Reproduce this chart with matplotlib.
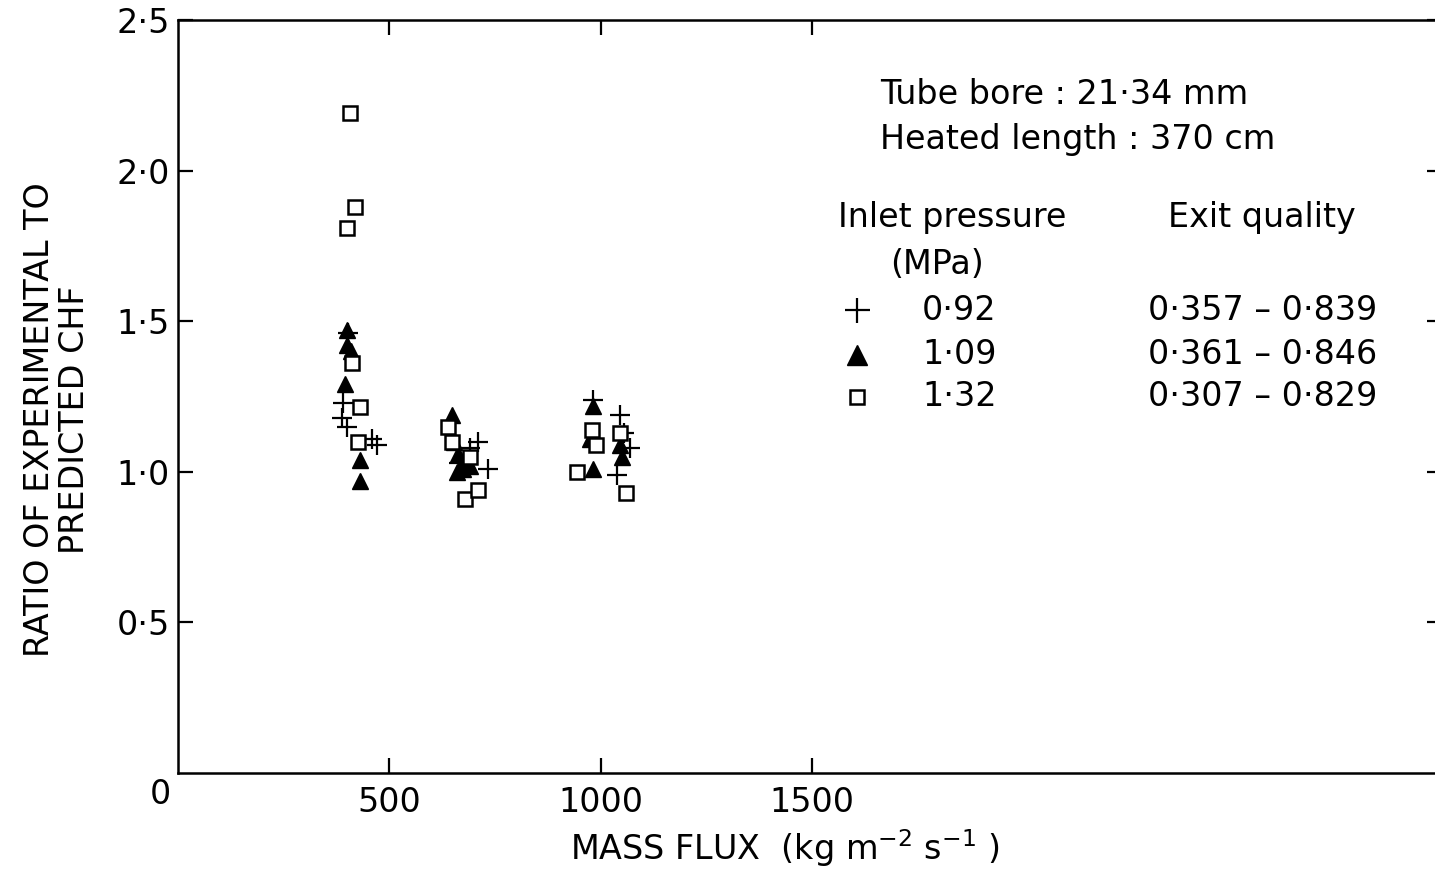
import matplotlib
matplotlib.use("Agg")
import matplotlib.pyplot as plt

# Data: mass flux (kg m-2 s-1) vs ratio exp/predicted CHF
g_092 = [402, 390, 388, 400, 459, 470, 710, 690, 733, 665, 982, 1046, 1069, 1038, 1055]
r_092 = [1.46, 1.23, 1.18, 1.15, 1.11, 1.09, 1.10, 1.08, 1.01, 1.03, 1.24, 1.19, 1.08, 0.99, 1.13]

g_109 = [400, 400, 410, 395, 430, 430, 648, 653, 663, 677, 675, 690, 660,
         982, 975, 982, 1046, 1050]
r_109 = [1.47, 1.42, 1.40, 1.29, 1.04, 0.97, 1.19, 1.10, 1.06, 1.04, 1.01, 1.02, 1.00,
         1.22, 1.11, 1.01, 1.09, 1.05]

g_132 = [407, 419, 400, 412, 430, 426, 639, 648, 690, 679, 710,
         944, 979, 989, 1046, 1060]
r_132 = [2.19, 1.88, 1.81, 1.36, 1.215, 1.10, 1.15, 1.10, 1.05, 0.91, 0.94,
         1.00, 1.14, 1.09, 1.13, 0.93]

legend_pressure = ["0·92", "1·09", "1·32"]
legend_quality = ["0·357 – 0·839", "0·361 – 0·846", "0·307 – 0·829"]

W, H = 1435, 869
FS = 24
plt.rcParams['font.family'] = ['DejaVu Sans']

fig = plt.figure(figsize=(W / 100, H / 100), dpi=100)
ax = fig.add_axes([178 / W, 1 - 773 / H, (1442 - 178) / W, (773 - 20) / H])

ax.plot(g_092, r_092, '+', color='k', ms=15, mew=1.6, ls='none')
ax.plot(g_109, r_109, '^', color='k', ms=11, ls='none')
ax.plot(g_132, r_132, 's', mfc='white', mec='k', ms=10, mew=1.8, ls='none')

ax.set_xlim(0, (1442 - 178) / 0.4227)
ax.set_ylim(0, 2.5)

ax.set_xticks([500, 1000, 1500])
ax.set_xticklabels(["500", "1000", "1500"])
ax.set_yticks([0.5, 1.0, 1.5, 2.0, 2.5])
ax.set_yticklabels(["0·5", "1·0", "1·5", "2·0", "2·5"])
ax.tick_params(direction='in', length=11, width=1.6, labelsize=FS, top=True, right=True)
ax.tick_params(axis='x', pad=9)
ax.tick_params(axis='y', pad=6)
for s in ax.spines.values():
    s.set_linewidth(1.8)

# shared origin label
fig.text(160 / W, 1 - 795 / H, "0", fontsize=FS, ha='center', va='center')

fig.text(57 / W, 1 - 420 / H, "RATIO OF EXPERIMENTAL TO\nPREDICTED CHF", fontsize=FS,
         rotation=90, ha='center', va='center', multialignment='center', linespacing=1.1)
fig.text(785 / W, 1 - 848 / H, "MASS FLUX  (kg m$^{-2}$ s$^{-1}$ )", fontsize=FS,
         ha='center', va='center')

# annotation block
fig.text(880 / W, 1 - 95 / H, "Tube bore : 21·34 mm", fontsize=FS, va='center')
fig.text(880 / W, 1 - 140 / H, "Heated length : 370 cm", fontsize=FS, va='center')
fig.text(838 / W, 1 - 218 / H, "Inlet pressure", fontsize=FS, va='center')
fig.text(890 / W, 1 - 265 / H, "(MPa)", fontsize=FS, va='center')
fig.text(1168 / W, 1 - 218 / H, "Exit quality", fontsize=FS, va='center')

rows_y = [310, 355, 397]
styles = [dict(marker='+', color='k', ms=18, mew=1.6),
          dict(marker='^', color='k', ms=14),
          dict(marker='s', mfc='white', mec='k', ms=10, mew=1.8)]
for yy, st, p, q in zip(rows_y, styles, legend_pressure, legend_quality):
    fig.lines.append(matplotlib.lines.Line2D([857 / W], [1 - yy / H], ls='none',
                                             transform=fig.transFigure, **st))
    fig.text(922 / W, 1 - yy / H, p, fontsize=FS, va='center')
    fig.text(1148 / W, 1 - yy / H, q, fontsize=FS, va='center')

fig.savefig("out.png", dpi=100)
